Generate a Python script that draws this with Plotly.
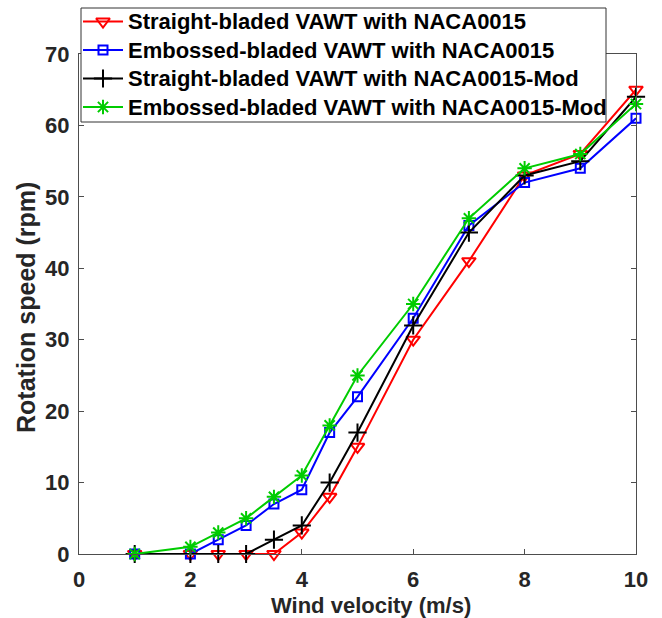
import plotly.graph_objects as go

wind = [1, 2, 2.5, 3, 3.5, 4, 4.5, 5, 6, 7, 8, 9, 10]
straight_naca = [0, 0, 0, 0, 0, 3, 8, 15, 30, 41, 53, 56, 65]
embossed_naca = [0, 0, 2, 4, 7, 9, 17, 22, 33, 46, 52, 54, 61]
straight_mod = [0, 0, 0, 0, 2, 4, 10, 17, 32, 45, 53, 55, 64]
embossed_mod = [0, 1, 3, 5, 8, 11, 18, 25, 35, 47, 54, 56, 63]

names = [
    "Straight-bladed VAWT with NACA0015",
    "Embossed-bladed VAWT with NACA0015",
    "Straight-bladed VAWT with NACA0015-Mod",
    "Embossed-bladed VAWT with NACA0015-Mod",
]
x_title = "Wind velocity (m/s)"
y_title = "Rotation speed (rpm)"

series = [straight_naca, embossed_naca, straight_mod, embossed_mod]
colors = ["#FF0000", "#0000FF", "#000000", "#00CC00"]
symbols = ["triangle-down-open", "square-open", "cross-thin-open", "asterisk-open"]
sizes = [12, 9, 13, 12]

W, H = 662, 618
PL, PR, PT, PB = 79, 636, 54, 554  # plot area in pixels
FONT = "Arial, 'Liberation Sans', sans-serif"
TXT = "#262626"

fig = go.Figure()
for nm, ys, c, s, sz in zip(names, series, colors, symbols, sizes):
    fig.add_trace(go.Scatter(
        x=wind, y=ys, name=nm, mode="lines+markers", showlegend=False,
        line=dict(color=c, width=2),
        marker=dict(symbol=s, size=sz, color=c, line=dict(color=c, width=2)),
        xaxis="x", yaxis="y", cliponaxis=False,
    ))

# ---- hand-built legend on a full-figure pixel overlay axis ----
LEG_L, LEG_R, LEG_T, LEG_B = 81, 606, 8, 122
row_y = [21.5, 50, 78.5, 107]
fig.add_trace(go.Scatter(
    x=[LEG_L, LEG_R, LEG_R, LEG_L, LEG_L], y=[LEG_T, LEG_T, LEG_B, LEG_B, LEG_T],
    mode="lines", fill="toself", fillcolor="white",
    line=dict(color="#333333", width=1), showlegend=False, hoverinfo="skip",
    xaxis="x2", yaxis="y2",
))
annotations = []
for nm, c, s, sz, ry in zip(names, colors, symbols, sizes, row_y):
    fig.add_trace(go.Scatter(
        x=[LEG_L + 2, LEG_L + 42], y=[ry, ry], mode="lines",
        line=dict(color=c, width=2), showlegend=False, hoverinfo="skip",
        xaxis="x2", yaxis="y2",
    ))
    fig.add_trace(go.Scatter(
        x=[LEG_L + 22], y=[ry], mode="markers",
        marker=dict(symbol=s, size=sz, color=c, line=dict(color=c, width=2)),
        showlegend=False, hoverinfo="skip", xaxis="x2", yaxis="y2",
    ))
    annotations.append(dict(
        text="<b>%s</b>" % nm, x=(LEG_L + 45) / W, y=1 - ry / H,
        xref="paper", yref="paper", xanchor="left", yanchor="middle",
        showarrow=False, font=dict(family=FONT, size=22, color="#000000"),
    ))

annotations.append(dict(
    text="<b>%s</b>" % x_title, x=371 / W, y=1 - 605 / H, xref="paper", yref="paper",
    xanchor="center", yanchor="middle", showarrow=False,
    font=dict(family=FONT, size=22, color=TXT),
))
annotations.append(dict(
    text="<b>%s</b>" % y_title, x=26 / W, y=1 - 308 / H, xref="paper", yref="paper",
    xanchor="center", yanchor="middle", showarrow=False, textangle=-90,
    font=dict(family=FONT, size=25, color=TXT),
))

axis_common = dict(
    showline=True, linecolor="#4d4d4d", linewidth=1, mirror="ticks",
    ticks="inside", ticklen=5, tickcolor="#4d4d4d", tickwidth=1,
    showgrid=False, zeroline=False, automargin=False,
    tickfont=dict(family=FONT, size=22, color=TXT, weight="bold"),
)

fig.update_layout(
    width=W, height=H,
    margin=dict(l=0, r=0, t=0, b=0),
    paper_bgcolor="white", plot_bgcolor="rgba(0,0,0,0)",
    showlegend=False,
    xaxis=dict(domain=[PL / W, PR / W], range=[0, 10], dtick=2, tick0=0,
               ticklabelstandoff=6, anchor="y", **axis_common),
    yaxis=dict(domain=[1 - PB / H, 1 - PT / H], range=[0, 70], dtick=10, tick0=0,
               ticklabelstandoff=4, anchor="x", **axis_common),
    xaxis2=dict(domain=[0, 1], range=[0, W], visible=False, fixedrange=True, anchor="y2"),
    yaxis2=dict(domain=[0, 1], range=[H, 0], visible=False, fixedrange=True, anchor="x2"),
    annotations=annotations,
)
fig.write_html("out.html")
